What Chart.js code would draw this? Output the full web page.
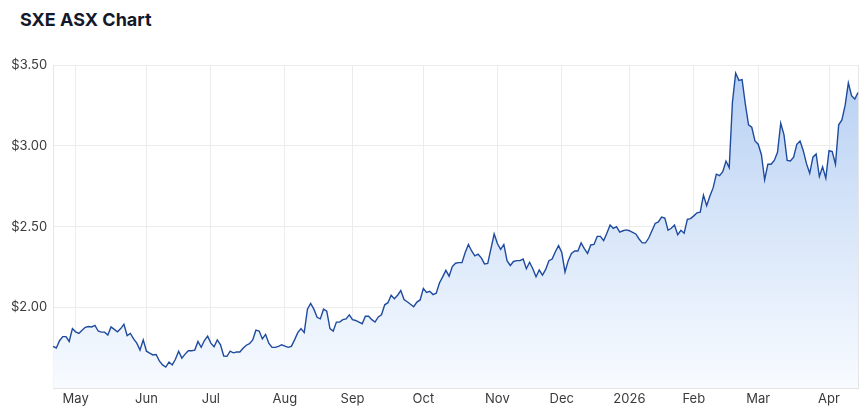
<!DOCTYPE html>
<html>
<head>
<meta charset="utf-8">
<title>SXE ASX Chart</title>
<script src="https://cdn.jsdelivr.net/npm/chart.js@4.4.1/dist/chart.umd.min.js"></script>
<style>
  html, body { margin: 0; padding: 0; background: #fff; }
  .wrap { position: relative; width: 866px; height: 410px; }
  h1 { position: absolute; left: 20px; top: 11px; margin: 0; font: 700 18px/18px Inter, sans-serif; color: #14182b; }
  canvas { position: absolute; left: 0; top: 0; }
</style>
</head>
<body>
<div class="wrap">
  <h1>SXE ASX Chart</h1>
  <canvas id="sxeChart" width="866" height="410"></canvas>
</div>
<script>
// closing prices, one per ASX trading day
const prices = [
  1.76, 1.75, 1.795, 1.82, 1.82, 1.79, 1.87, 1.85, 1.84, 1.86,
  1.878, 1.883, 1.88, 1.89, 1.855, 1.848, 1.848, 1.83, 1.88, 1.865,
  1.85, 1.87, 1.896, 1.827, 1.84, 1.806, 1.78, 1.737, 1.80, 1.73,
  1.718, 1.707, 1.71, 1.67, 1.645, 1.632, 1.663, 1.645, 1.68, 1.73,
  1.687, 1.712, 1.733, 1.733, 1.737, 1.79, 1.754, 1.796, 1.823, 1.78,
  1.758, 1.80, 1.77, 1.70, 1.698, 1.73, 1.72, 1.725, 1.725, 1.748,
  1.767, 1.777, 1.80, 1.86, 1.855, 1.806, 1.834, 1.78, 1.754, 1.754,
  1.76, 1.77, 1.762, 1.754, 1.76, 1.80, 1.845, 1.87, 1.845, 1.99,
  2.025, 1.99, 1.94, 1.93, 1.99, 1.978, 1.87, 1.855, 1.91, 1.91,
  1.925, 1.93, 1.955, 1.925, 1.92, 1.91, 1.90, 1.946, 1.946, 1.925,
  1.91, 1.942, 1.955, 2.017, 2.03, 2.076, 2.055, 2.076, 2.105, 2.05,
  2.036, 2.02, 2.005, 2.034, 2.047, 2.118, 2.093, 2.10, 2.08, 2.089,
  2.152, 2.19, 2.23, 2.194, 2.253, 2.274, 2.278, 2.278, 2.34, 2.39,
  2.35, 2.32, 2.33, 2.307, 2.27, 2.273, 2.365, 2.455, 2.396, 2.36,
  2.39, 2.29, 2.26, 2.285, 2.29, 2.29, 2.30, 2.24, 2.28, 2.24,
  2.19, 2.232, 2.20, 2.236, 2.29, 2.30, 2.345, 2.383, 2.34, 2.22,
  2.29, 2.335, 2.35, 2.35, 2.40, 2.364, 2.335, 2.387, 2.39, 2.44,
  2.44, 2.414, 2.46, 2.51, 2.49, 2.50, 2.466, 2.475, 2.48, 2.475,
  2.465, 2.455, 2.424, 2.40, 2.40, 2.43, 2.475, 2.52, 2.53, 2.56,
  2.554, 2.478, 2.49, 2.51, 2.45, 2.478, 2.46, 2.545, 2.55, 2.567,
  2.586, 2.59, 2.695, 2.63, 2.69, 2.74, 2.825, 2.816, 2.84, 2.906,
  2.865, 3.27, 3.45, 3.405, 3.41, 3.26, 3.13, 3.115, 3.03, 3.01,
  2.945, 2.79, 2.886, 2.886, 2.91, 2.96, 3.14, 3.07, 2.91, 2.906,
  2.93, 3.01, 3.03, 2.97, 2.89, 2.83, 2.93, 2.95, 2.81, 2.87,
  2.80, 2.97, 2.965, 2.886, 3.13, 3.16, 3.25, 3.39, 3.31, 3.29,
  3.33
];

const firstDay = '2025-04-17';
const holidays = ['2025-04-18', '2025-04-21', '2025-04-25', '2025-06-09', '2025-12-25',
  '2025-12-26', '2026-01-01', '2026-01-26', '2026-04-03', '2026-04-06'];
const monthNames = ['Jan', 'Feb', 'Mar', 'Apr', 'May', 'Jun', 'Jul', 'Aug', 'Sep', 'Oct', 'Nov', 'Dec'];
const yTicks = [2.0, 2.5, 3.0, 3.5];

// build the trading-day labels
const dates = [];
const d = new Date(firstDay + 'T00:00:00Z');
while (dates.length < prices.length) {
  const iso = d.toISOString().slice(0, 10);
  const wd = d.getUTCDay();
  if (wd !== 0 && wd !== 6 && !holidays.includes(iso)) dates.push(iso);
  d.setUTCDate(d.getUTCDate() + 1);
}

function isMonthStart(i) {
  return i > 0 && dates[i].slice(5, 7) !== dates[i - 1].slice(5, 7);
}

function monthLabel(i) {
  const m = parseInt(dates[i].slice(5, 7), 10) - 1;
  return m === 0 ? dates[i].slice(0, 4) : monthNames[m];
}

// light edge line on the right of the plot
const frame = {
  id: 'frame',
  beforeDatasetsDraw(chart) {
    const { ctx, chartArea: a } = chart;
    ctx.save();
    ctx.strokeStyle = '#e6e6e6';
    ctx.lineWidth = 1;
    ctx.beginPath();
    ctx.moveTo(Math.round(a.right) + 0.5, a.top);
    ctx.lineTo(Math.round(a.right) + 0.5, a.bottom);
    ctx.stroke();
    ctx.restore();
  }
};

const chart = new Chart(document.getElementById('sxeChart'), {
  type: 'line',
  data: {
    labels: dates,
    datasets: [{
      data: prices,
      borderColor: '#1f4b9e',
      borderWidth: 1.4,
      pointRadius: 0,
      tension: 0,
      fill: 'start',
      backgroundColor(context) {
        const a = context.chart.chartArea;
        if (!a) return 'rgba(190,212,244,0.5)';
        const g = context.chart.ctx.createLinearGradient(0, a.top, 0, a.bottom);
        g.addColorStop(0, '#b6cff3');
        g.addColorStop(0.5, '#d8e6f9');
        g.addColorStop(1, '#f8fbff');
        return g;
      }
    }]
  },
  options: {
    responsive: false,
    animation: false,
    layout: { padding: { top: 65, left: 5, right: 8, bottom: 0 } },
    scales: {
      x: {
        offset: false,
        afterBuildTicks(scale) {
          scale.ticks = scale.ticks.filter(t => isMonthStart(t.value));
        },
        ticks: {
          autoSkip: false,
          maxRotation: 0,
          padding: 3,
          color: '#3a3a3a',
          font: { family: 'Inter', size: 13 },
          callback: (value) => monthLabel(value)
        },
        grid: { color: '#ececec', drawTicks: false },
        border: { color: '#e0e0e0' }
      },
      y: {
        min: 1.5,
        max: 3.5,
        afterBuildTicks(scale) {
          scale.ticks = [1.5].concat(yTicks).map(v => ({ value: v }));
        },
        ticks: {
          padding: 6,
          color: '#3a3a3a',
          font: { family: 'Inter', size: 13 },
          callback: (value) => yTicks.includes(value) ? '$' + value.toFixed(2) : ''
        },
        grid: { color: '#ececec', drawTicks: false },
        border: { color: '#e6e6e6' }
      }
    },
    plugins: {
      legend: { display: false },
      tooltip: { enabled: false }
    }
  },
  plugins: [frame]
});
</script>
</body>
</html>
